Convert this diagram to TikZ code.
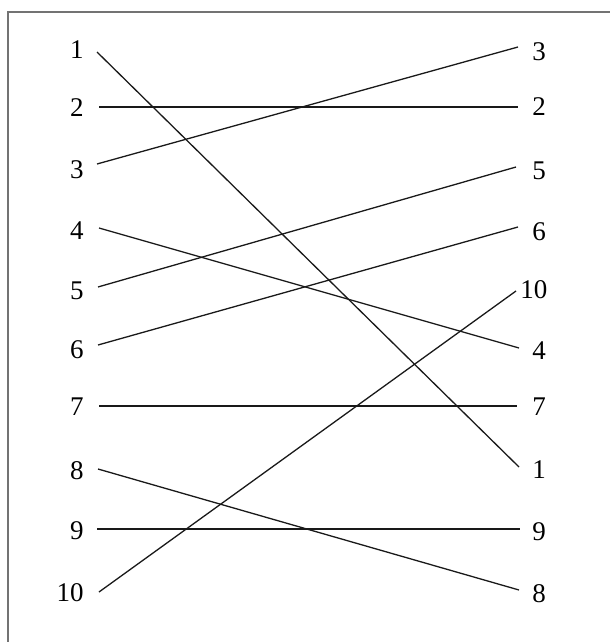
\documentclass[tikz,border=0pt]{standalone}
\usepackage{fontspec}
\setmainfont{Liberation Serif}
\begin{document}
\begin{tikzpicture}[x=0.5pt,y=-0.5pt,
  frame/.style={draw=black!55,line width=0.75pt},
  link/.style={draw=black!90,line width=0.65pt},
  lnum/.style={anchor=east,inner sep=0pt,font=\fontsize{13.5}{15}\selectfont},
  rnum/.style={anchor=west,inner sep=0pt,font=\fontsize{13.5}{15}\selectfont}]
\useasboundingbox (0,0) rectangle (610,642);
\draw[frame] (8,642) -- (8,12) -- (610,12);
% left labels
\node[lnum] (L1) at (84,50) {1};
\node[lnum] (L2) at (84,107.5) {2};
\node[lnum] (L3) at (84,170) {3};
\node[lnum] (L4) at (84,230.5) {4};
\node[lnum] (L5) at (84,290.5) {5};
\node[lnum] (L6) at (84,349.5) {6};
\node[lnum] (L7) at (84,407) {7};
\node[lnum] (L8) at (84,470.5) {8};
\node[lnum] (L9) at (84,530.5) {9};
\node[lnum] (L10) at (84,592.5) {10};
% right labels
\node[rnum] (R3) at (532,51.5) {3};
\node[rnum] (R2) at (532,107) {2};
\node[rnum] (R5) at (532,171) {5};
\node[rnum] (R6) at (532,231.5) {6};
\node[rnum] (R10) at (520,289.5) {10};
\node[rnum] (R4) at (532,350.5) {4};
\node[rnum] (R7) at (532,406.5) {7};
\node[rnum] (R1) at (532,469.5) {1};
\node[rnum] (R9) at (532,531.5) {9};
\node[rnum] (R8) at (532,594) {8};
% line end points
\coordinate (l1) at (97,52);
\coordinate (l2) at (99,107);
\coordinate (l3) at (97,164);
\coordinate (l4) at (99,228);
\coordinate (l5) at (98,287);
\coordinate (l6) at (98,345);
\coordinate (l7) at (99,406);
\coordinate (l8) at (98,469);
\coordinate (l9) at (97,529);
\coordinate (l10) at (99,592);
\coordinate (r3) at (518,47);
\coordinate (r2) at (518,107);
\coordinate (r5) at (516,167);
\coordinate (r6) at (518,227);
\coordinate (r10) at (516,291);
\coordinate (r4) at (519,348);
\coordinate (r7) at (517,406);
\coordinate (r1) at (519,467);
\coordinate (r9) at (520,529);
\coordinate (r8) at (519,590);
\foreach \i in {1,...,10} {\draw[link] (l\i) -- (r\i);}
\end{tikzpicture}
\end{document}
